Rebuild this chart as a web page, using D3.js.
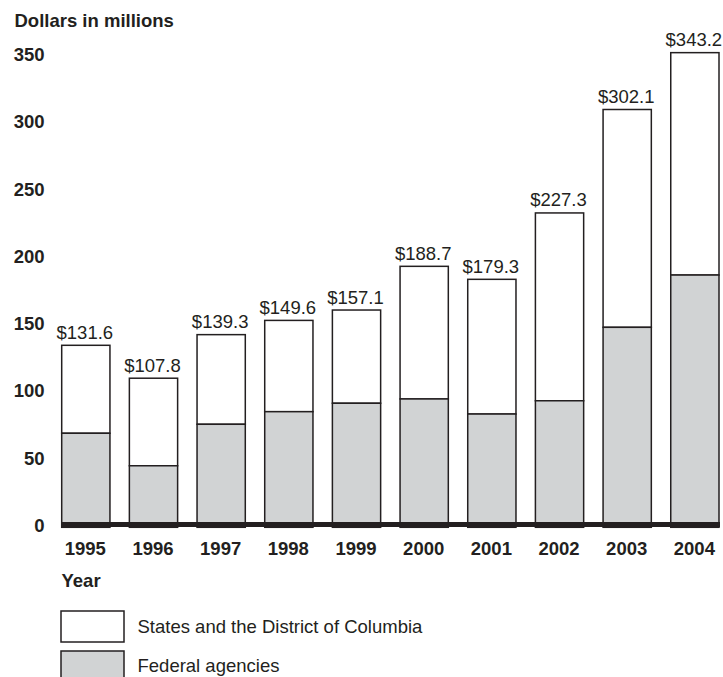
<!DOCTYPE html>
<html>
<head>
<meta charset="utf-8">
<script src="https://cdn.jsdelivr.net/npm/d3@7/dist/d3.min.js"></script>
<style>
  html, body { margin: 0; padding: 0; background: #fff; }
  svg { display: block; }
  text { font-family: "Liberation Sans", Arial, Helvetica, sans-serif; fill: #231f20; }
</style>
</head>
<body>
<svg id="chart" width="723" height="677"></svg>
<script>
const years = ["1995","1996","1997","1998","1999","2000","2001","2002","2003","2004"];
const totals = [131.6, 107.8, 139.3, 149.6, 157.1, 188.7, 179.3, 227.3, 302.1, 343.2];
const federal = [68.0, 44.5, 74.5, 83.6, 89.7, 92.8, 81.9, 91.5, 144.6, 182.4];
const yTicks = [0, 50, 100, 150, 200, 250, 300, 350];
const seriesNames = ["States and the District of Columbia", "Federal agencies"];

const ink = "#231f20";
const grayFill = "#d1d3d4";
const fs = 18.5;
const svg = d3.select("#chart");

const x = d3.scaleBand().domain(years).range([61.7, 719]).paddingInner(0.287).paddingOuter(0);
const y = d3.scaleLinear().domain([0, 350]).range([527.3, 527.3 - 350 * 1.383]);
const yLabel = d3.scaleLinear().domain([0, 350]).range([532, 61]);

// axis title
svg.append("text").attr("x", 14.5).attr("y", 27).attr("font-size", fs).attr("font-weight", "bold")
  .text("Dollars in millions");

// y tick labels
svg.append("g").selectAll("text").data(yTicks).join("text")
  .attr("x", 44.5).attr("y", d => yLabel(d))
  .attr("text-anchor", "end").attr("font-size", fs).attr("font-weight", "bold")
  .text(d => d);

const rows = years.map((yr, i) => ({ year: yr, total: totals[i], fed: federal[i] }));

// state (white) segments
svg.append("g").selectAll("rect").data(rows).join("rect")
  .attr("x", d => x(d.year)).attr("width", x.bandwidth())
  .attr("y", d => y(d.total)).attr("height", d => y(d.fed) - y(d.total))
  .attr("fill", "#fff").attr("stroke", ink).attr("stroke-width", 1.5);

// federal (gray) segments
svg.append("g").selectAll("rect").data(rows).join("rect")
  .attr("x", d => x(d.year)).attr("width", x.bandwidth())
  .attr("y", d => y(d.fed)).attr("height", d => y(0) - y(d.fed))
  .attr("fill", grayFill).attr("stroke", ink).attr("stroke-width", 1.5);

// total labels
svg.append("g").selectAll("text").data(rows).join("text")
  .attr("x", d => x(d.year) + x.bandwidth() / 2 - 1)
  .attr("y", d => y(d.total) - 6.5)
  .attr("text-anchor", "middle").attr("font-size", fs)
  .text(d => "$" + d.total.toFixed(1));

// baseline
svg.append("line").attr("x1", 61).attr("x2", 720).attr("y1", 524.5).attr("y2", 524.5)
  .attr("stroke", ink).attr("stroke-width", 5);

// x labels
svg.append("g").selectAll("text").data(years).join("text")
  .attr("x", d => x(d) + x.bandwidth() / 2 - 0.5).attr("y", 555)
  .attr("text-anchor", "middle").attr("font-size", fs).attr("font-weight", "bold")
  .text(d => d);

svg.append("text").attr("x", 61.5).attr("y", 586.7).attr("font-size", fs).attr("font-weight", "bold")
  .text("Year");

// legend
const legend = svg.append("g");
const fills = ["#fff", grayFill];
seriesNames.forEach((name, i) => {
  legend.append("rect").attr("x", 61).attr("y", 611 + i * 40).attr("width", 63).attr("height", 31)
    .attr("fill", fills[i]).attr("stroke", ink).attr("stroke-width", 1.5);
  legend.append("text").attr("x", 137.5).attr("y", 633.3 + i * 38.6).attr("font-size", fs)
    .text(name);
});
</script>
</body>
</html>
